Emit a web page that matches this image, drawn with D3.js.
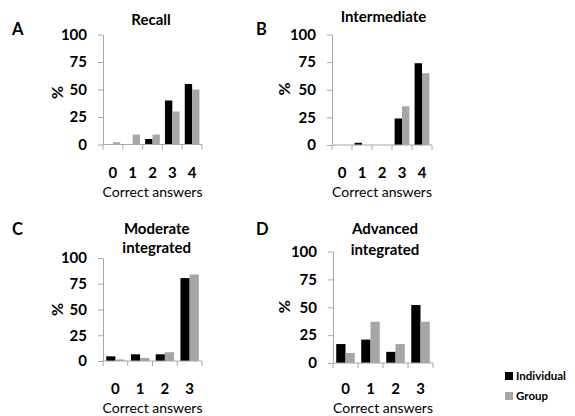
<!DOCTYPE html>
<html>
<head>
<meta charset="utf-8">
<script src="https://cdn.jsdelivr.net/npm/d3@7"></script>
<style>
  html, body { margin: 0; padding: 0; background: #fff; }
  svg { display: block; }
</style>
</head>
<body>
<div id="chart"></div>
<script>
// ---- Data ----
const seriesNames = ["Individual", "Group"];
const yTicks = [0, 25, 50, 75, 100];

const recallCategories = ["0", "1", "2", "3", "4"];
const recallIndividual = [0, 0, 5, 40, 55];
const recallGroup = [2, 9, 9, 30, 50];

const intermediateCategories = ["0", "1", "2", "3", "4"];
const intermediateIndividual = [0, 2, 0, 24, 74];
const intermediateGroup = [0, 0, 0, 35, 65];

const moderateCategories = ["0", "1", "2", "3"];
const moderateIndividual = [4.5, 6.5, 6.5, 80.5];
const moderateGroup = [1.5, 3, 8.5, 84];

const advancedCategories = ["0", "1", "2", "3"];
const advancedIndividual = [17, 21, 10, 52];
const advancedGroup = [9, 37, 17, 37];

const xAxisTitle = "Correct answers";
const yAxisTitle = "%";

// ---- Layout ----
const W = 575, H = 416;
const colors = { Individual: "#000000", Group: "#a6a6a6" };
const axisColor = "#a8a8a8";
const fontFamily = "Lato, 'Open Sans', sans-serif";

const panels = [
  { letter: "A", title: ["Recall"], cats: recallCategories, ind: recallIndividual, grp: recallGroup,
    left: 103, right: 202, top: 34.5, bottom: 144.5,
    titleX: 151, titleY: [25], letterX: 12, letterY: 34.5, pctX: 57.5, pctY: 92.5, digitsY: 177.5, caY: 197 },
  { letter: "B", title: ["Intermediate"], cats: intermediateCategories, ind: intermediateIndividual, grp: intermediateGroup,
    left: 332, right: 432, top: 34.5, bottom: 145,
    titleX: 383.5, titleY: [22], letterX: 256, letterY: 34.5, pctX: 284, pctY: 89, digitsY: 178, caY: 197 },
  { letter: "C", title: ["Moderate", "integrated"], cats: moderateCategories, ind: moderateIndividual, grp: moderateGroup,
    left: 103, right: 202, top: 258, bottom: 361,
    titleX: 156.7, titleY: [234, 253], letterX: 12, letterY: 234.5, pctX: 57, pctY: 309.5, digitsY: 394, caY: 413 },
  { letter: "D", title: ["Advanced", "integrated"], cats: advancedCategories, ind: advancedIndividual, grp: advancedGroup,
    left: 333, right: 433, top: 251.5, bottom: 363,
    titleX: 385, titleY: [234, 255], letterX: 256, letterY: 234.5, pctX: 284, pctY: 306.7, digitsY: 394, caY: 413 }
];

const svg = d3.select("#chart").append("svg")
  .attr("width", W).attr("height", H)
  .attr("font-family", fontFamily);

panels.forEach(p => {
  const g = svg.append("g");
  const x0 = d3.scaleBand().domain(p.cats).range([p.left, p.right]).padding(0);
  const x1 = d3.scaleBand().domain(seriesNames).range([0, x0.bandwidth()])
    .paddingInner(0).paddingOuter(0.35);
  const y = d3.scaleLinear().domain([0, 100]).range([p.bottom, p.top]);

  // Y axis
  const yAxis = d3.axisLeft(y).tickValues(yTicks).tickSize(5).tickSizeOuter(0).tickPadding(11);
  const ya = g.append("g").attr("transform", `translate(${p.left},0)`).call(yAxis);
  ya.select(".domain").attr("stroke", axisColor);
  ya.selectAll(".tick line").attr("stroke", axisColor);
  ya.selectAll(".tick text").attr("font-size", 15).attr("font-weight", "bold")
    .attr("font-family", fontFamily).attr("fill", "#000");

  // Bars
  const rows = p.cats.map((c, i) => ({ cat: c, vals: [
    { s: "Individual", v: p.ind[i] }, { s: "Group", v: p.grp[i] }] }));
  g.selectAll("g.cat").data(rows).enter().append("g")
    .attr("transform", d => `translate(${x0(d.cat)},0)`)
    .selectAll("rect").data(d => d.vals).enter().append("rect")
    .attr("x", d => x1(d.s))
    .attr("width", x1.bandwidth())
    .attr("y", d => y(d.v))
    .attr("height", d => y(0) - y(d.v))
    .attr("fill", d => colors[d.s]);

  // X axis line and boundary ticks
  g.append("line").attr("x1", p.left).attr("x2", p.right)
    .attr("y1", y(0)).attr("y2", y(0)).attr("stroke", axisColor);
  const bounds = p.cats.map(c => x0(c)).concat([p.right]);
  g.selectAll("line.bt").data(bounds).enter().append("line")
    .attr("x1", d => d).attr("x2", d => d)
    .attr("y1", y(0)).attr("y2", y(0) + 5).attr("stroke", axisColor);

  // X tick labels
  g.selectAll("text.xl").data(p.cats).enter().append("text")
    .attr("x", d => x0(d) + x0.bandwidth() / 2)
    .attr("y", p.digitsY)
    .attr("text-anchor", "middle").attr("font-size", 15).attr("font-weight", "bold")
    .text(d => d);

  // X axis title
  g.append("text").attr("x", (p.left + p.right) / 2).attr("y", p.caY)
    .attr("text-anchor", "middle").attr("font-size", 14).text(xAxisTitle);

  // Y axis title
  g.append("text").attr("transform", `translate(${p.pctX},${p.pctY}) rotate(-90)`)
    .attr("text-anchor", "middle").attr("dy", "0.35em")
    .attr("font-size", 16).attr("font-weight", "bold").text(yAxisTitle);

  // Title
  p.title.forEach((t, i) => {
    g.append("text").attr("x", p.titleX).attr("y", p.titleY[i])
      .attr("text-anchor", "middle").attr("font-size", 15).attr("font-weight", "bold").text(t);
  });

  // Panel letter
  g.append("text").attr("x", p.letterX).attr("y", p.letterY)
    .attr("font-size", 16.5).attr("font-weight", "bold").text(p.letter);
});

// Legend
const legend = svg.append("g");
seriesNames.forEach((s, i) => {
  legend.append("rect").attr("x", 505).attr("y", 372 + i * 20).attr("width", 8).attr("height", 8)
    .attr("fill", colors[s]);
  legend.append("text").attr("x", 516).attr("y", 380 + i * 20)
    .attr("font-size", 11.5).attr("font-weight", "bold").text(s);
});
</script>
</body>
</html>
